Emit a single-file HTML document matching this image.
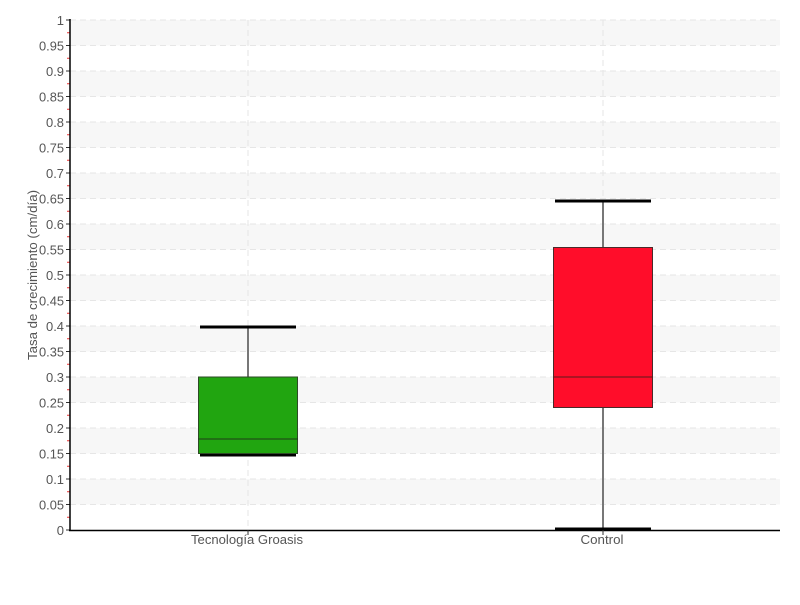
<!DOCTYPE html>
<html><head><meta charset="utf-8"><style>
html,body{margin:0;padding:0;background:#fff;}
svg text{font-family:"Liberation Sans",sans-serif;fill:#555;font-size:13px;}
</style></head><body>
<svg width="800" height="600" xmlns="http://www.w3.org/2000/svg">
<g fill="#f7f7f7">
<rect x="70" y="20" width="710" height="25.5"/><rect x="70" y="71" width="710" height="25.5"/>
<rect x="70" y="122" width="710" height="25.5"/><rect x="70" y="173" width="710" height="25.5"/>
<rect x="70" y="224" width="710" height="25.5"/><rect x="70" y="275" width="710" height="25.5"/>
<rect x="70" y="326" width="710" height="25.5"/><rect x="70" y="377" width="710" height="25.5"/>
<rect x="70" y="428" width="710" height="25.5"/><rect x="70" y="479" width="710" height="25.5"/>
</g>
<path stroke="#e6e6e6" stroke-dasharray="6,4" fill="none" d="M70 504.5H780M70 479H780M70 453.5H780M70 428H780M70 402.5H780M70 377H780M70 351.5H780M70 326H780M70 300.5H780M70 275H780M70 249.5H780M70 224H780M70 198.5H780M70 173H780M70 147.5H780M70 122H780M70 96.5H780M70 71H780M70 45.5H780M70 20H780M248 20V530M603 20V530"/>
<path stroke="#333" fill="none" d="M66 530H70M66 504.5H70M66 479H70M66 453.5H70M66 428H70M66 402.5H70M66 377H70M66 351.5H70M66 326H70M66 300.5H70M66 275H70M66 249.5H70M66 224H70M66 198.5H70M66 173H70M66 147.5H70M66 122H70M66 96.5H70M66 71H70M66 45.5H70M66 20H70"/>
<path stroke="#e33" fill="none" d="M67 517.25H70M67 491.75H70M67 466.25H70M67 440.75H70M67 415.25H70M67 389.75H70M67 364.25H70M67 338.75H70M67 313.25H70M67 287.75H70M67 262.25H70M67 236.75H70M67 211.25H70M67 185.75H70M67 160.25H70M67 134.75H70M67 109.25H70M67 83.75H70M67 58.25H70M67 32.75H70"/>
<g text-anchor="end">
<text x="64" y="535">0</text>
<text x="64" y="509.5" textLength="25" lengthAdjust="spacingAndGlyphs">0.05</text>
<text x="64" y="484" textLength="18" lengthAdjust="spacingAndGlyphs">0.1</text>
<text x="64" y="458.5" textLength="25" lengthAdjust="spacingAndGlyphs">0.15</text>
<text x="64" y="433" textLength="18" lengthAdjust="spacingAndGlyphs">0.2</text>
<text x="64" y="407.5" textLength="25" lengthAdjust="spacingAndGlyphs">0.25</text>
<text x="64" y="382" textLength="18" lengthAdjust="spacingAndGlyphs">0.3</text>
<text x="64" y="356.5" textLength="25" lengthAdjust="spacingAndGlyphs">0.35</text>
<text x="64" y="331" textLength="18" lengthAdjust="spacingAndGlyphs">0.4</text>
<text x="64" y="305.5" textLength="25" lengthAdjust="spacingAndGlyphs">0.45</text>
<text x="64" y="280" textLength="18" lengthAdjust="spacingAndGlyphs">0.5</text>
<text x="64" y="254.5" textLength="25" lengthAdjust="spacingAndGlyphs">0.55</text>
<text x="64" y="229" textLength="18" lengthAdjust="spacingAndGlyphs">0.6</text>
<text x="64" y="203.5" textLength="25" lengthAdjust="spacingAndGlyphs">0.65</text>
<text x="64" y="178" textLength="18" lengthAdjust="spacingAndGlyphs">0.7</text>
<text x="64" y="152.5" textLength="25" lengthAdjust="spacingAndGlyphs">0.75</text>
<text x="64" y="127" textLength="18" lengthAdjust="spacingAndGlyphs">0.8</text>
<text x="64" y="101.5" textLength="25" lengthAdjust="spacingAndGlyphs">0.85</text>
<text x="64" y="76" textLength="18" lengthAdjust="spacingAndGlyphs">0.9</text>
<text x="64" y="50.5" textLength="25" lengthAdjust="spacingAndGlyphs">0.95</text>
<text x="64" y="25">1</text>
</g>
<!-- green -->
<line x1="248" x2="248" y1="327" y2="455" stroke="#777" stroke-width="2"/>
<line x1="200" x2="296" y1="327" y2="327" stroke="#000" stroke-width="3"/>
<line x1="200" x2="296" y1="455" y2="455" stroke="#000" stroke-width="3"/>
<rect x="198.5" y="377" width="99" height="76.5" fill="#21a510" stroke="#2d4a26" stroke-width="1"/>
<line x1="198" x2="298" y1="439" y2="439" stroke="#1e3a18"/>
<!-- red -->
<line x1="603" x2="603" y1="201" y2="529" stroke="#777" stroke-width="2"/>
<line x1="555" x2="651" y1="201" y2="201" stroke="#000" stroke-width="3"/>
<line x1="555" x2="651" y1="529" y2="529" stroke="#000" stroke-width="3"/>
<rect x="553.5" y="247.5" width="99" height="160" fill="#ff0d2a" stroke="#4a2a2a" stroke-width="1"/>
<line x1="553" x2="653" y1="377" y2="377" stroke="#5a1a1a"/>
<!-- axes -->
<line x1="70" x2="70" y1="19" y2="531" stroke="#000" stroke-width="1.5"/>
<line x1="69" x2="780" y1="530.5" y2="530.5" stroke="#000" stroke-width="1.5"/>
<line x1="248" x2="248" y1="530" y2="535" stroke="#333"/>
<line x1="603" x2="603" y1="530" y2="535" stroke="#333"/>
<text x="247" y="544" text-anchor="middle" textLength="112" lengthAdjust="spacingAndGlyphs">Tecnología Groasis</text>
<text x="602" y="544" text-anchor="middle" textLength="43" lengthAdjust="spacingAndGlyphs">Control</text>
<text transform="translate(37,275) rotate(-90)" text-anchor="middle" textLength="170" lengthAdjust="spacingAndGlyphs">Tasa de crecimiento (cm/día)</text>
</svg>
</body></html>
